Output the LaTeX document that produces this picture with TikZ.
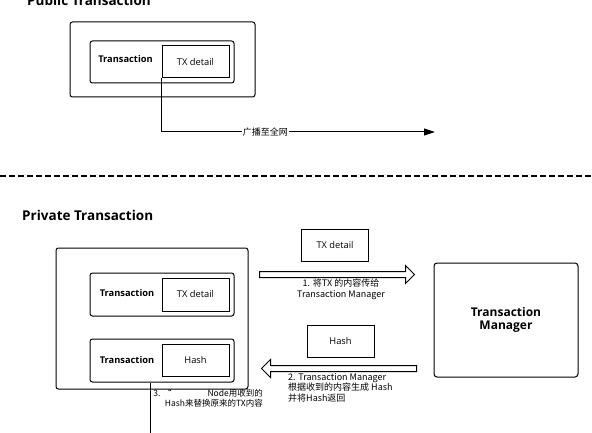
\documentclass[tikz,border=0pt]{standalone}
\usepackage{fontspec}
\setmainfont{Open Sans}
\newfontfamily\cjk{Noto Sans CJK SC}
\usetikzlibrary{arrows.meta,shapes.arrows}

\tikzset{
  frame/.style={draw=black,line width=1pt,rounded corners=2.5pt,inner sep=0pt},
  txbox/.style={frame,minimum width=144pt,minimum height=43pt},
  detailbox/.style={draw=black,line width=1pt,inner sep=0pt,
    minimum width=67pt,minimum height=32pt,font=\fontsize{9.3}{10}\selectfont},
  txname/.style={font=\bfseries\fontsize{9.3}{10}\selectfont},
  title/.style={font=\bfseries\fontsize{13.5}{15}\selectfont,anchor=base west,inner sep=0pt},
  note/.style={font=\cjk\fontsize{9}{10.5}\selectfont,inner sep=0pt},
  hollow arrow/.style={single arrow,draw=black,line width=1pt,inner xsep=0pt,
    inner ysep=2.5pt,minimum width=18pt,single arrow head extend=6pt},
}

\begin{document}
\begin{tikzpicture}[x=1pt,y=-1pt]
  \useasboundingbox (0,0) rectangle (592,433);
  % public transaction
  \node[title] (pubtitle) at (27,6) {Public Transaction};
  \node[frame,minimum width=185pt,minimum height=75pt] (pubouter) at (162.5,59.5) {};
  \node[txbox,minimum height=42pt] (pubtx) at (162,62) {};
  \node[txname] (pubname) at (125.5,59) {Transaction};
  \node[detailbox] (pubdetail) at (195.5,62) {TX detail};
  \coordinate (bcast) at (435,132);
  \draw[line width=1pt,-{Triangle[length=11pt,width=7pt]}] (pubdetail.south west) |-
    node[pos=0.69,fill=white,inner sep=1pt,font=\cjk\fontsize{9}{10}\selectfont] (bcastlabel) {广播至全网} (bcast);

  \draw[line width=1.3pt,dash pattern=on 6pt off 3pt] (0,176) -- (592,176);

  % private transaction
  \node[title] (privtitle) at (22,220) {Private Transaction};
  \node[frame,minimum width=192pt,minimum height=141pt] (privouter) at (152,318.5) {};
  \node[txbox] (privtx) at (162,294.5) {};
  \node[txname] (privname) at (127,293) {Transaction};
  \node[detailbox,minimum height=33pt] (privdetail) at (195.5,294.5) {TX detail};
  \node[txbox] (privhtx) at (162,360.5) {};
  \node[txname] (privhname) at (127,360) {Transaction};
  \node[detailbox] (privhash) at (195.5,360) {Hash};
  \coordinate (down) at (150,436);
  \draw[line width=1pt] (down |- privhtx.south) -- (down);
  \node[note,font=\cjk\fontsize{8.5}{10}\selectfont,anchor=north east,align=right] (replace) at (263,389)
    {3. \textquotedblleft\hspace{36pt}Node用收到的\\Hash来替换原来的TX内容};

  % transaction manager
  \node[frame,minimum width=144pt,minimum height=114pt,rounded corners=3pt,align=center,
    font=\bfseries\fontsize{12}{13}\selectfont] (manager) at (506,320) {Transaction\\Manager};
  \node[detailbox] (sentdetail) at (335,245) {TX detail};
  \node[detailbox] (sentdhash) at (340.5,341) {Hash};
  \node[hollow arrow,minimum height=155pt] (send) at (335.5,274.5) {};
  \node[note,anchor=north,align=center] (sendlabel) at (341,279)
    {1. 将TX 的内容传给\\Transaction Manager};
  \node[hollow arrow,minimum height=155pt,shape border rotate=180] (back) at (340.5,368.5) {};
  \node[note,anchor=north west,align=left] (backlabel) at (288,373)
    {2. Transaction Manager\\根据收到的内容生成 Hash\\并将Hash返回};
\end{tikzpicture}
\end{document}
